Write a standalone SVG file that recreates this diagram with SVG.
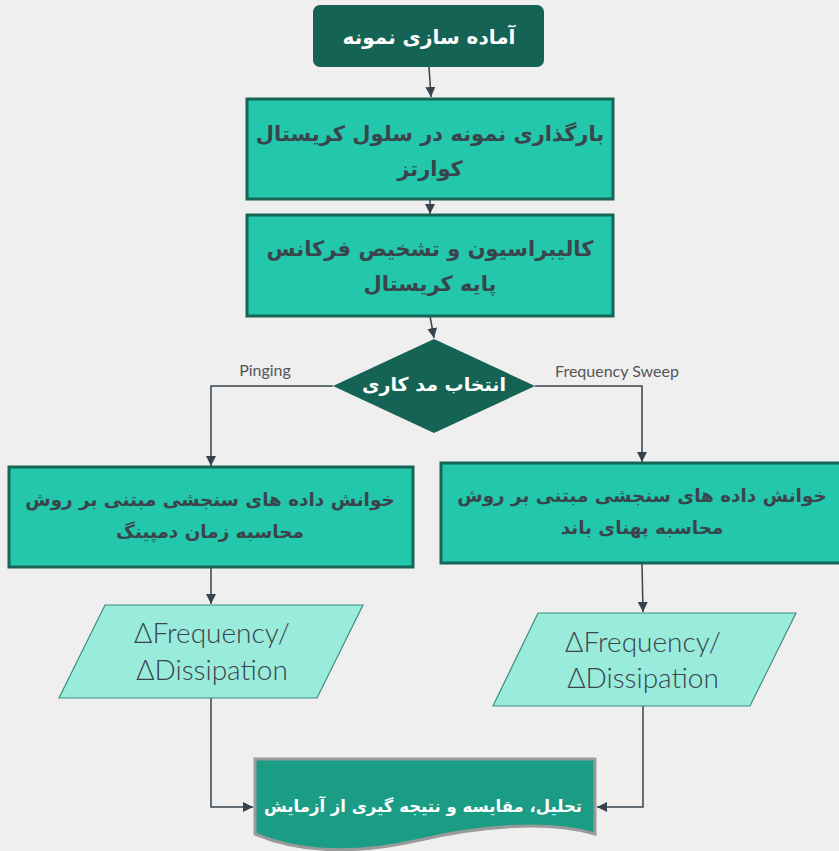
<svg xmlns="http://www.w3.org/2000/svg" width="839" height="851" viewBox="0 0 839 851">
<defs>
<marker id="ah" viewBox="0 0 10 10" refX="10" refY="5" markerWidth="10" markerHeight="10" markerUnits="userSpaceOnUse" orient="auto">
<path d="M0,0 L10,5 L0,10 Z" fill="#37434c"/>
</marker>
<style>
.bg{fill:#efefef}
.dark{fill:#156354}
.proc{fill:#23c7ab;stroke:#176555;stroke-width:3}
.para{fill:#99ebdc;stroke:#3f8e80;stroke-width:1.2}
.doc{fill:#1a9d84;stroke:#9a9a9a;stroke-width:3}
.fa{font-family:"DejaVu Sans",sans-serif;font-weight:bold;text-anchor:middle}
.w{fill:#ffffff}
.g{fill:#3a444b}
.en{font-family:Lato,"Open Sans",sans-serif;font-weight:300;fill:#3a444b;text-anchor:middle}
.lbl{font-family:Lato,"Open Sans",sans-serif;fill:#555;font-size:16px;text-anchor:middle}
.c{fill:none;stroke:#37434c;stroke-width:1.5}
</style>
</defs>
<rect class="bg" x="0" y="0" width="839" height="851"/>
<g id="connectors">
<path class="c" d="M429,67 L431,97" marker-end="url(#ah)"/>
<path class="c" d="M430,199 L430,214" marker-end="url(#ah)"/>
<path class="c" d="M430,316 L434,338" marker-end="url(#ah)"/>
<path class="c" d="M333,386 H211 V466" marker-end="url(#ah)"/>
<path class="c" d="M535,386 H642 V462" marker-end="url(#ah)"/>
<path class="c" d="M211,567 V604" marker-end="url(#ah)"/>
<path class="c" d="M642,563 L643,612" marker-end="url(#ah)"/>
<path class="c" d="M211,698 V807 H253" marker-end="url(#ah)"/>
<path class="c" d="M643,706 V807 H597" marker-end="url(#ah)"/>
<text class="lbl" x="265" y="376">Pinging</text>
<text class="lbl" x="617" y="377">Frequency Sweep</text>
</g>
<g id="n1">
<rect class="dark" x="313" y="5" width="231" height="62" rx="7"/>
<text class="fa w" x="429" y="44" font-size="20">آماده سازی نمونه</text>
</g>
<g id="n2">
<rect class="proc" x="247" y="99" width="366" height="100"/>
<text class="fa g" x="430" y="141" font-size="21">بارگذاری نمونه در سلول کریستال</text>
<text class="fa g" x="430" y="176" font-size="21">کوارتز</text>
</g>
<g id="n3">
<rect class="proc" x="247" y="215" width="366" height="101"/>
<text class="fa g" x="430" y="256" font-size="21">کالیبراسیون و تشخیص فرکانس</text>
<text class="fa g" x="430" y="291" font-size="21">پایه کریستال</text>
</g>
<g id="n4">
<path class="dark" d="M434,339 L535,386 L434,433 L333,386 Z"/>
<text class="fa w" x="434" y="391" font-size="19">انتخاب مد کاری</text>
</g>
<g id="n5">
<rect class="proc" x="9" y="467" width="404" height="100"/>
<text class="fa g" x="210" y="506" font-size="18.4">خوانش داده های سنجشی مبتنی بر روش</text>
<text class="fa g" x="210" y="538" font-size="18.4">محاسبه زمان دمپینگ</text>
</g>
<g id="n6">
<rect class="proc" x="441" y="463" width="404" height="100"/>
<text class="fa g" x="642" y="502" font-size="18.4">خوانش داده های سنجشی مبتنی بر روش</text>
<text class="fa g" x="642" y="534" font-size="18.4">محاسبه پهنای باند</text>
</g>
<g id="n7">
<path class="para" d="M105,605 L363,605 L317,698 L59,698 Z"/>
<text class="en" x="212" y="643" font-size="28">ΔFrequency/</text>
<text class="en" x="212" y="680" font-size="28">ΔDissipation</text>
</g>
<g id="n8">
<path class="para" d="M538,613 L796,613 L750,706 L493,706 Z"/>
<text class="en" x="643" y="652" font-size="28">ΔFrequency/</text>
<text class="en" x="643" y="688" font-size="28">ΔDissipation</text>
</g>
<g id="n9">
<path class="doc" d="M255,759 L595,759 L595,834 C548,820 480,826 420,840 C350,856 298,852 255,834 Z"/>
<text class="fa w" x="423" y="812" font-size="16.5">تحلیل، مقایسه و نتیجه گیری از آزمایش</text>
</g>
</svg>
